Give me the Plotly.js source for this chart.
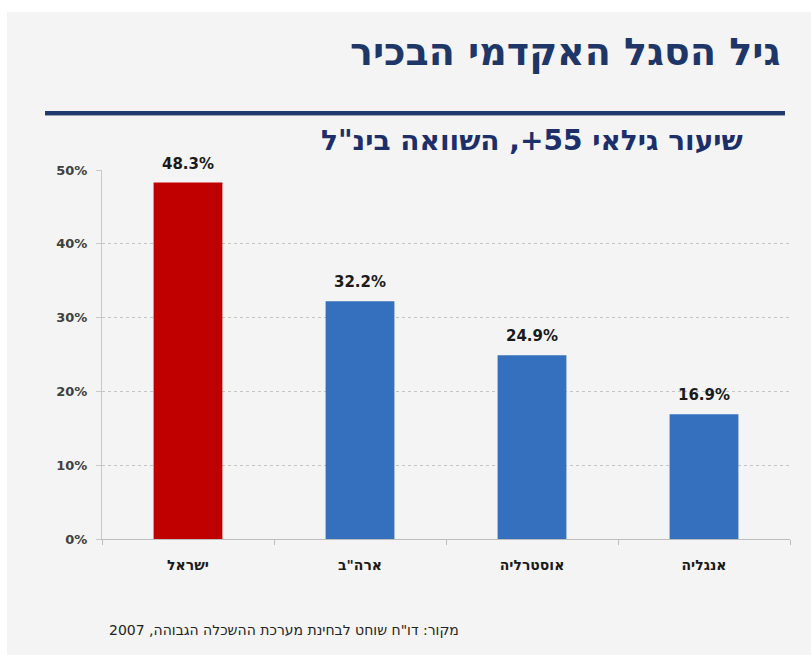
<!DOCTYPE html>
<html>
<head>
<meta charset="utf-8">
<script src="https://cdn.plot.ly/plotly-3.0.1.min.js"></script>
<style>
html,body{margin:0;padding:0;background:#ffffff;}
#chart{position:absolute;left:7px;top:12px;width:804px;height:643px;}
</style>
</head>
<body>
<div id="chart"></div>
<script>
const categories = ["ישראל", "ארה\"ב", "אוסטרליה", "אנגליה"];
const values = [48.3, 32.2, 24.9, 16.9];
const barColors = ["#c00000", "#3570be", "#3570be", "#3570be"];
const yTicks = [0, 10, 20, 30, 40, 50];
const yTickLabels = ["0%", "10%", "20%", "30%", "40%", "50%"];
const titleText = "גיל הסגל האקדמי הבכיר";
const subtitleText = "שיעור גילאי 55+, השוואה בינ\"ל";
const sourceText = "מקור: דו\"ח שוחט לבחינת מערכת ההשכלה הגבוהה, 2007";

const FONT = '"DejaVu Sans", "Liberation Sans", sans-serif';

const trace = {
  type: 'bar',
  x: categories,
  y: values,
  marker: {color: barColors, line: {width: 0}},
  hoverinfo: 'skip',
  cliponaxis: false
};

const valueLabels = categories.map((c, i) => ({
  x: c, y: values[i], xref: 'x', yref: 'y',
  text: '<b>' + values[i].toFixed(1) + '%</b>',
  showarrow: false, yanchor: 'bottom', yshift: 8,
  font: {family: FONT, size: 15, color: '#1a1a1a'}
}));

const layout = {
  width: 804, height: 643,
  margin: {l: 95, r: 21, t: 158, b: 116},
  paper_bgcolor: '#f4f4f4',
  plot_bgcolor: 'rgba(0,0,0,0)',
  showlegend: false,
  bargap: 0.6,
  font: {family: FONT},
  xaxis: {
    type: 'category',
    showline: true, linecolor: '#bdbdbd', linewidth: 1,
    ticks: 'outside', tickson: 'boundaries', ticklen: 5, tickcolor: '#bdbdbd',
    tickfont: {family: FONT, size: 14, color: '#1a1a1a', weight: 'bold'},
    ticklabelstandoff: 13,
    showgrid: false, zeroline: false, fixedrange: true
  },
  yaxis: {
    range: [0, 50],
    tickvals: yTicks, ticktext: yTickLabels,
    showline: true, linecolor: '#c8c8c8', linewidth: 1,
    ticks: 'outside', ticklen: 5, tickcolor: '#c8c8c8',
    tickfont: {family: FONT, size: 13, color: '#404040', weight: 'bold'},
    ticklabelstandoff: 6,
    showgrid: true, gridcolor: '#c4c4c4', griddash: 'dot', gridwidth: 1,
    zeroline: false, fixedrange: true
  },
  shapes: [
    {type: 'line', xref: 'paper', yref: 'paper', x0: -0.0828, x1: 0.9927, y0: 1.1490, y1: 1.1490,
     line: {color: '#9aa3b5', width: 2}},
    {type: 'line', xref: 'paper', yref: 'paper', x0: -0.0828, x1: 0.9927, y0: 1.1545, y1: 1.1545,
     line: {color: '#1f3a6e', width: 4}}
  ],
  annotations: [
    {text: '<b>' + titleText + '</b>', xref: 'paper', yref: 'paper', x: 0.988, y: 1.3198,
     xanchor: 'right', yanchor: 'middle', showarrow: false,
     font: {family: FONT, size: 38, color: '#1e3768'}},
    {text: '<b>' + subtitleText + '</b>', xref: 'paper', yref: 'paper', x: 0.9346, y: 1.0813,
     xanchor: 'right', yanchor: 'middle', showarrow: false,
     font: {family: FONT, size: 28, color: '#1c2f6b'}},
    {text: sourceText, xref: 'paper', yref: 'paper', x: 0.0073, y: -0.2466,
     xanchor: 'left', yanchor: 'middle', showarrow: false,
     font: {family: FONT, size: 14, color: '#222222'}}
  ].concat(valueLabels)
};

Plotly.newPlot('chart', [trace], layout, {displayModeBar: false, staticPlot: true});
</script>
</body>
</html>
